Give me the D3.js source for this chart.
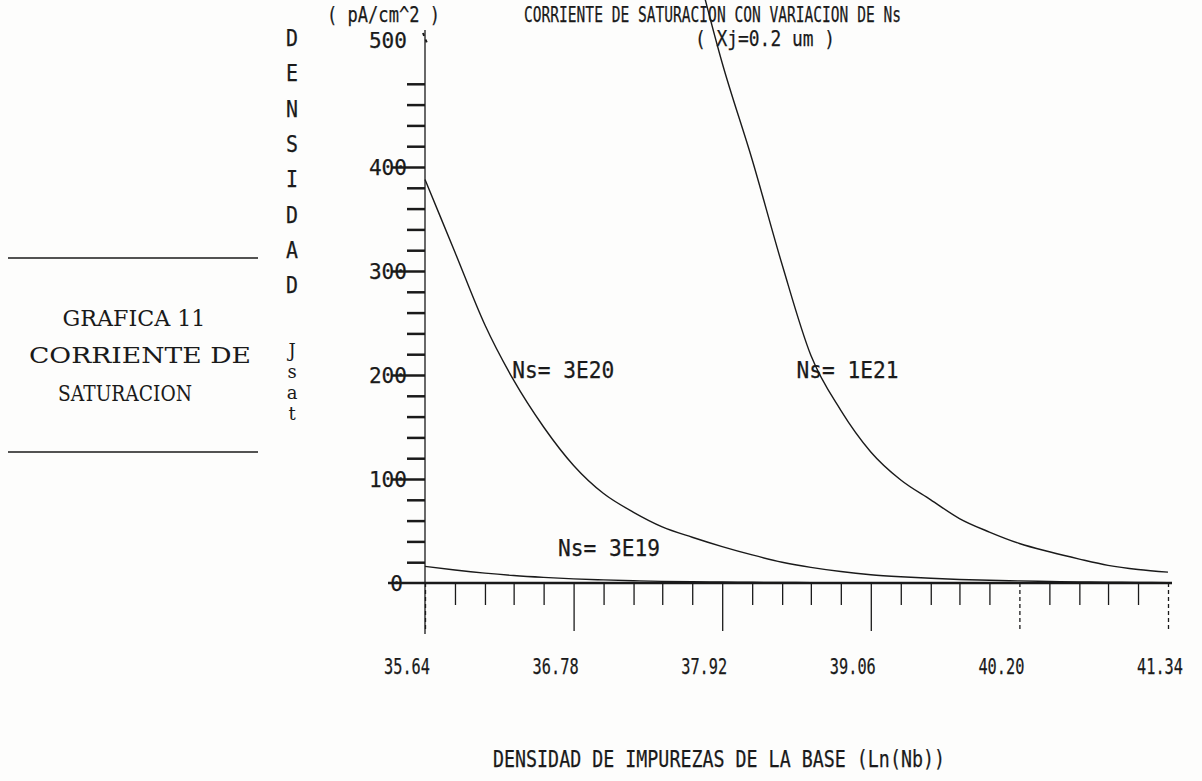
<!DOCTYPE html>
<html>
<head>
<meta charset="utf-8">
<script src="https://cdn.jsdelivr.net/npm/d3@7"></script>
<style>
body{margin:0;background:#fff;}
svg{display:block;background:#fdfdfc;}
.ink{fill:#1a1a1a;}
.dot{font-family:'DejaVu Sans Mono',monospace;stroke:#1a1a1a;stroke-width:0.25;}
.serif{font-family:'DejaVu Serif','Liberation Serif',serif;}
.axis path,.axis line{stroke:#1a1a1a;}
.curve{fill:none;stroke:#1a1a1a;stroke-width:1.4;}
</style>
</head>
<body>
<svg id="chart" width="1202" height="781"></svg>
<script>
//Values: x = Ln(Nb), J in pA/cm^2
var xValues = [35.64,35.87,36.10,36.32,36.55,36.78,37.01,37.24,37.46,37.69,37.92,38.15,38.38,
	38.60,38.83,39.06,39.29,39.52,39.74,39.97,40.20,40.43,40.66,40.88,41.11,41.34];
var ns3e19 = [16,12.5,9.5,7.2,5.4,4,3,2.2,1.6,1.2,0.9,0.7,0.5,0.4,0.3,0.25,0.2,0.15,0.12,0.1,0.08,0.06,0.05,0.04,0.03,0.03];
var ns3e20 = [388,318,248,195,150,113,86,68,54,44,35,27,20,15,11,8,6,4.5,3.4,2.6,2,1.5,1.1,0.8,0.6,0.4];
var xValues1e21 = [37.69,37.92,38.15,38.38,38.60,38.83,39.06,39.29,39.52,39.74,39.97,40.20,40.43,40.66,40.88,41.11,41.34];
var ns1e21 = [610,500,407,306,219,166,126,99,80,62,49,38,30,23,17,13,10.5];

var xTickLabels = ['35.64','36.78','37.92','39.06','40.20','41.34'];
var yTickLabels = [0,100,200,300,400,500];
var seriesLabels = [
	{name:'Ns= 3E20', x:36.31, y:205},
	{name:'Ns= 1E21', x:38.49, y:205},
	{name:'Ns= 3E19', x:36.66, y:34}
];

var svg = d3.select('#chart');
var scaleX = d3.scaleLinear().domain([35.64,41.34]).range([425,1168]),
	scaleY = d3.scaleLinear().domain([0,500]).range([583,63]);

//text helper, squeezed to a given width like the old plotter font
function txt(g,s,x,y,size,w,cls,anchor){
	var t = g.append('text').attr('class','ink '+cls)
		.attr('x',x).attr('y',y)
		.style('font-size',size+'px')
		.attr('text-anchor',anchor||'start')
		.text(s);
	if(w) t.attr('textLength',w).attr('lengthAdjust','spacingAndGlyphs');
	return t;
}

//Titles
txt(svg,'( pA/cm^2 )',327,22,22,113,'dot');
txt(svg,'CORRIENTE DE SATURACION CON VARIACION DE Ns',524,22,22,377,'dot');
txt(svg,'( Xj=0.2 um )',695,46,22,140,'dot');

//Vertical axis title
var letters = 'DENSIDAD'.split('');
svg.selectAll('.vletter').data(letters).enter()
	.append('text').attr('class','ink dot vletter')
	.attr('x',286).attr('y',function(d,i){return 46+i*35.3})
	.style('font-size','23px')
	.attr('textLength',12).attr('lengthAdjust','spacingAndGlyphs')
	.text(function(d){return d});
svg.selectAll('.jsat').data(['J','s','a','t']).enter()
	.append('text').attr('class','ink serif jsat')
	.attr('x',292).attr('y',function(d,i){return 357+i*21})
	.attr('text-anchor','middle')
	.style('font-size','18px')
	.text(function(d){return d});

//Side box
svg.append('line').attr('x1',8).attr('x2',258).attr('y1',258).attr('y2',258).attr('stroke','#1a1a1a').attr('stroke-width',1.3);
svg.append('line').attr('x1',8).attr('x2',258).attr('y1',452).attr('y2',452).attr('stroke','#1a1a1a').attr('stroke-width',1.3);
txt(svg,'GRAFICA 11',134,326,22,143,'serif','middle');
txt(svg,'CORRIENTE  DE',140,363,22,222,'serif','middle');
txt(svg,'SATURACION',125,401,22,134,'serif','middle');

//Y axis
var yMinor = d3.range(20,500,20).filter(function(d){return d%100!==0});
svg.append('g').attr('class','axis')
	.attr('transform','translate(425,0)')
	.call(d3.axisLeft(scaleY).tickValues(yMinor).tickSize(18).tickFormat('').tickSizeOuter(0))
	.call(function(g){g.selectAll('line').attr('stroke-width',2.5);g.select('.domain').remove();});
svg.append('g').attr('class','axis')
	.attr('transform','translate(425,0)')
	.call(d3.axisLeft(scaleY).tickValues(yTickLabels.slice(1,5)).tickSize(34).tickFormat('').tickSizeOuter(0))
	.call(function(g){g.selectAll('line').attr('stroke-width',2.5);g.select('.domain').remove();});
svg.append('line').attr('x1',425).attr('x2',425).attr('y1',30).attr('y2',634)
	.attr('stroke','#1a1a1a').attr('stroke-width',1.3);
//little dotted mark beside the top label
svg.append('line').attr('x1',423).attr('x2',427).attr('y1',33).attr('y2',43)
	.attr('stroke','#1a1a1a').attr('stroke-width',2).attr('stroke-dasharray','3,4');

svg.selectAll('.ylab').data(yTickLabels).enter()
	.append('text').attr('class','ink dot ylab')
	.attr('x',function(d){return d===0?403:407})
	.attr('y',function(d){return d===500?48:scaleY(d)+8})
	.attr('text-anchor','end')
	.style('font-size','22px')
	.attr('textLength',function(d){return String(d).length*12.7})
	.attr('lengthAdjust','spacingAndGlyphs')
	.text(function(d){return d});

//X axis
var xMinor = xValues.filter(function(d,i){return i%5!==0});
var xMajor = xTickLabels.map(function(d){return +d});
svg.append('line').attr('x1',388).attr('x2',1172).attr('y1',scaleY(0)).attr('y2',scaleY(0))
	.attr('stroke','#1a1a1a').attr('stroke-width',2.5);
svg.append('g').attr('class','axis')
	.attr('transform','translate(0,'+scaleY(0)+')')
	.call(d3.axisBottom(scaleX).tickValues(xMinor).tickSize(22).tickFormat('').tickSizeOuter(0))
	.call(function(g){g.select('.domain').remove();g.selectAll('line').attr('stroke-width',1.3);});
svg.append('g').attr('class','axis')
	.attr('transform','translate(0,'+scaleY(0)+')')
	.call(d3.axisBottom(scaleX).tickValues(xMajor).tickSize(48).tickFormat('').tickSizeOuter(0))
	.call(function(g){
		g.select('.domain').remove();
		g.selectAll('line').attr('stroke-width',1.3)
			.attr('stroke-dasharray',function(d,i){return (i===0||i>=4)?'4,3':null});
	});
svg.selectAll('.xlab').data(xTickLabels).enter()
	.append('text').attr('class','ink dot xlab')
	.attr('x',function(d,i){return scaleX(+d)+(i<5?-18:-8)})
	.attr('y',674)
	.attr('text-anchor','middle')
	.style('font-size','22px')
	.attr('textLength',46).attr('lengthAdjust','spacingAndGlyphs')
	.text(function(d){return d});
txt(svg,'DENSIDAD DE IMPUREZAS DE LA BASE  (Ln(Nb))',493,767,23,452,'dot');

//Curves
var line = d3.line()
	.x(function(d){return scaleX(d[0])})
	.y(function(d){return scaleY(d[1])})
	.curve(d3.curveMonotoneX);
var curves = [d3.zip(xValues,ns3e19), d3.zip(xValues,ns3e20), d3.zip(xValues1e21,ns1e21)];
svg.selectAll('.curve').data(curves).enter()
	.append('path').attr('class','curve')
	.attr('d',line);

//Series labels
seriesLabels.forEach(function(s){
	txt(svg,s.name,scaleX(s.x),scaleY(s.y)+8,23,102,'dot');
});
</script>
</body>
</html>
